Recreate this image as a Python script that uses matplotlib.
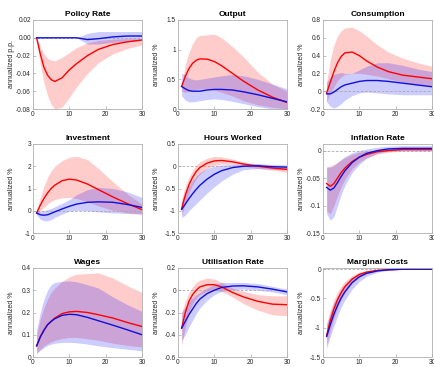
import numpy as np
import matplotlib
matplotlib.use("Agg")
import matplotlib.pyplot as plt

plt.rcParams['font.family'] = ['Liberation Sans', 'DejaVu Sans']

# horizon (quarters) at which the responses are read
t = [1, 2, 3, 4, 5, 6, 8, 10, 12, 15, 18, 22, 26, 30]

# Policy Rate
pol_red = [0, -0.018, -0.033, -0.042, -0.047, -0.049, -0.045, -0.036, -0.029, -0.020, -0.013, -0.0075, -0.0045, -0.0025]
pol_red_hi = [0, -0.010, -0.018, -0.023, -0.025, -0.026, -0.022, -0.0166, -0.011, -0.0057, -0.003, -0.0015, -0.001, -0.001]
pol_red_lo = [0, -0.030, -0.050, -0.065, -0.075, -0.080, -0.078, -0.067, -0.055, -0.040, -0.028, -0.018, -0.012, -0.008]
pol_blue = [0, 0, 0, 0, 0, 0, 0, 0, 0, -0.002, -0.001, 0.001, 0.002, 0.002]
pol_blue_hi = [0, 0, 0, 0, 0, 0, 0, 0, 0, 0.005, 0.007, 0.007, 0.007, 0.007]
pol_blue_lo = [0, 0, 0, 0, 0, 0, 0, 0, 0, -0.007, -0.007, -0.005, -0.004, -0.003]

# Output
out_red = [0.38, 0.55, 0.68, 0.77, 0.82, 0.845, 0.84, 0.80, 0.73, 0.60, 0.47, 0.32, 0.20, 0.11]
out_red_hi = [0.40, 0.75, 0.95, 1.10, 1.20, 1.24, 1.25, 1.26, 1.20, 1.05, 0.88, 0.62, 0.42, 0.30]
out_red_lo = [0.30, 0.28, 0.30, 0.32, 0.33, 0.34, 0.34, 0.32, 0.28, 0.22, 0.14, 0.07, 0.03, 0.0]
out_blue = [0.38, 0.34, 0.31, 0.30, 0.30, 0.30, 0.32, 0.33, 0.33, 0.32, 0.29, 0.24, 0.18, 0.12]
out_blue_hi = [0.60, 0.58, 0.52, 0.50, 0.49, 0.50, 0.52, 0.54, 0.56, 0.58, 0.56, 0.50, 0.42, 0.34]
out_blue_lo = [0.22, 0.15, 0.12, 0.12, 0.13, 0.14, 0.16, 0.17, 0.16, 0.13, 0.09, 0.04, 0.0, -0.02]

# Consumption
con_red = [-0.02, 0.10, 0.22, 0.32, 0.39, 0.43, 0.44, 0.40, 0.34, 0.27, 0.22, 0.18, 0.16, 0.14]
con_red_hi = [0.10, 0.35, 0.52, 0.62, 0.68, 0.71, 0.72, 0.68, 0.62, 0.52, 0.44, 0.37, 0.32, 0.28]
con_red_lo = [-0.12, -0.02, 0.05, 0.12, 0.16, 0.19, 0.20, 0.20, 0.19, 0.17, 0.14, 0.10, 0.07, 0.06]
con_blue = [-0.03, -0.03, -0.01, 0.02, 0.05, 0.07, 0.09, 0.11, 0.12, 0.12, 0.11, 0.09, 0.07, 0.05]
con_blue_hi = [0.10, 0.16, 0.19, 0.20, 0.21, 0.20, 0.20, 0.24, 0.28, 0.32, 0.32, 0.29, 0.25, 0.22]
con_blue_lo = [-0.12, -0.17, -0.19, -0.17, -0.14, -0.10, -0.05, -0.02, -0.01, -0.02, -0.03, -0.04, -0.04, -0.04]

# Investment
inv_red = [-0.10, 0.25, 0.55, 0.80, 1.00, 1.15, 1.35, 1.42, 1.38, 1.20, 0.95, 0.62, 0.32, 0.05]
inv_red_hi = [0.0, 0.60, 1.10, 1.50, 1.80, 2.00, 2.25, 2.40, 2.45, 2.30, 1.90, 1.30, 0.75, 0.30]
inv_red_lo = [-0.20, 0.0, 0.15, 0.30, 0.42, 0.50, 0.58, 0.60, 0.55, 0.40, 0.22, 0.02, -0.10, -0.15]
inv_blue = [-0.10, -0.18, -0.20, -0.18, -0.12, -0.05, 0.08, 0.20, 0.30, 0.38, 0.40, 0.38, 0.28, 0.15]
inv_blue_hi = [0.0, -0.02, 0.0, 0.05, 0.10, 0.18, 0.33, 0.50, 0.72, 0.95, 1.05, 1.00, 0.85, 0.60]
inv_blue_lo = [-0.20, -0.38, -0.45, -0.45, -0.40, -0.30, -0.15, -0.02, 0.02, 0.0, -0.05, -0.10, -0.12, -0.15]

# Hours Worked
hrs_red = [-0.95, -0.65, -0.42, -0.25, -0.12, -0.03, 0.07, 0.12, 0.13, 0.10, 0.05, 0.0, -0.04, -0.07]
hrs_red_hi = [-0.75, -0.45, -0.25, -0.10, 0.02, 0.10, 0.18, 0.22, 0.21, 0.16, 0.10, 0.05, 0.0, -0.02]
hrs_red_lo = [-1.10, -0.85, -0.60, -0.42, -0.28, -0.18, -0.05, 0.02, 0.05, 0.04, 0.0, -0.05, -0.09, -0.13]
hrs_blue = [-0.97, -0.85, -0.73, -0.62, -0.52, -0.43, -0.29, -0.18, -0.10, -0.03, 0.0, 0.01, -0.01, -0.02]
hrs_blue_hi = [-0.80, -0.60, -0.45, -0.32, -0.22, -0.14, -0.05, 0.0, 0.03, 0.04, 0.05, 0.06, 0.04, 0.03]
hrs_blue_lo = [-1.15, -1.10, -1.00, -0.92, -0.84, -0.76, -0.60, -0.46, -0.33, -0.18, -0.08, -0.05, -0.07, -0.08]

# Inflation Rate
inf_red = [-0.060, -0.065, -0.060, -0.050, -0.040, -0.032, -0.020, -0.012, -0.007, -0.002, 0.0, 0.002, 0.002, 0.002]
inf_red_hi = [-0.030, -0.028, -0.025, -0.021, -0.017, -0.013, -0.007, -0.003, -0.001, 0.001, 0.003, 0.004, 0.005, 0.005]
inf_red_lo = [-0.110, -0.115, -0.100, -0.082, -0.066, -0.052, -0.033, -0.021, -0.013, -0.006, -0.003, -0.001, -0.001, -0.001]
inf_blue = [-0.067, -0.072, -0.068, -0.058, -0.047, -0.037, -0.022, -0.012, -0.005, 0.0, 0.003, 0.004, 0.004, 0.004]
inf_blue_hi = [-0.030, -0.030, -0.027, -0.022, -0.016, -0.011, -0.004, 0.0, 0.003, 0.006, 0.008, 0.009, 0.009, 0.009]
inf_blue_lo = [-0.115, -0.127, -0.120, -0.100, -0.080, -0.063, -0.040, -0.025, -0.014, -0.005, -0.001, 0.0, 0.0, 0.0]

# Wages
wag_red = [0.05, 0.09, 0.12, 0.145, 0.16, 0.175, 0.195, 0.203, 0.205, 0.20, 0.19, 0.175, 0.155, 0.137]
wag_red_hi = [0.10, 0.17, 0.22, 0.26, 0.29, 0.31, 0.34, 0.36, 0.372, 0.375, 0.378, 0.355, 0.32, 0.29]
wag_red_lo = [0.02, 0.035, 0.05, 0.06, 0.068, 0.075, 0.083, 0.088, 0.088, 0.082, 0.075, 0.062, 0.052, 0.045]
wag_blue = [0.05, 0.09, 0.12, 0.145, 0.16, 0.172, 0.187, 0.192, 0.19, 0.178, 0.163, 0.143, 0.122, 0.10]
wag_blue_hi = [0.12, 0.20, 0.26, 0.30, 0.325, 0.335, 0.34, 0.342, 0.338, 0.325, 0.31, 0.27, 0.235, 0.205]
wag_blue_lo = [0.015, 0.03, 0.042, 0.052, 0.058, 0.062, 0.066, 0.066, 0.064, 0.058, 0.05, 0.042, 0.035, 0.028]

# Utilisation Rate
utl_red = [-0.34, -0.20, -0.10, -0.04, 0.0, 0.03, 0.05, 0.05, 0.03, -0.02, -0.06, -0.10, -0.125, -0.13]
utl_red_hi = [-0.20, -0.10, -0.02, 0.03, 0.07, 0.09, 0.11, 0.10, 0.07, 0.02, -0.01, -0.04, -0.05, -0.05]
utl_red_lo = [-0.50, -0.33, -0.20, -0.12, -0.07, -0.04, -0.01, 0.0, -0.01, -0.06, -0.12, -0.18, -0.22, -0.23]
utl_blue = [-0.34, -0.28, -0.22, -0.17, -0.12, -0.08, -0.03, 0.0, 0.025, 0.038, 0.04, 0.03, 0.01, -0.015]
utl_blue_hi = [-0.20, -0.15, -0.10, -0.07, -0.04, -0.02, 0.02, 0.05, 0.07, 0.07, 0.07, 0.06, 0.035, 0.01]
utl_blue_lo = [-0.45, -0.40, -0.33, -0.27, -0.21, -0.16, -0.09, -0.04, -0.01, 0.005, 0.01, 0.0, -0.015, -0.04]

# Marginal Costs
mc_red = [-1.13, -0.88, -0.68, -0.52, -0.40, -0.30, -0.17, -0.09, -0.05, -0.02, -0.01, 0.0, 0.0, 0.0]
mc_red_hi = [-0.92, -0.70, -0.52, -0.39, -0.29, -0.21, -0.11, -0.05, -0.02, -0.005, 0.0, 0.0, 0.0, 0.0]
mc_red_lo = [-1.30, -1.05, -0.84, -0.66, -0.52, -0.40, -0.24, -0.14, -0.08, -0.035, -0.015, -0.005, 0.0, 0.0]
mc_blue = [-1.15, -0.95, -0.77, -0.62, -0.49, -0.39, -0.23, -0.13, -0.07, -0.03, -0.01, 0.0, 0.0, 0.0]
mc_blue_hi = [-0.95, -0.75, -0.58, -0.45, -0.34, -0.26, -0.14, -0.07, -0.035, -0.01, 0.0, 0.0, 0.0, 0.0]
mc_blue_lo = [-1.35, -1.15, -0.97, -0.80, -0.65, -0.53, -0.34, -0.21, -0.12, -0.05, -0.02, -0.005, 0.0, 0.0]

titles = ['Policy Rate', 'Output', 'Consumption', 'Investment', 'Hours Worked',
          'Inflation Rate', 'Wages', 'Utilisation Rate', 'Marginal Costs']
ylabels = ['annualized p.p.'] + ['annualized %'] * 8

panels = [
    (pol_red, pol_red_lo, pol_red_hi, pol_blue, pol_blue_lo, pol_blue_hi),
    (out_red, out_red_lo, out_red_hi, out_blue, out_blue_lo, out_blue_hi),
    (con_red, con_red_lo, con_red_hi, con_blue, con_blue_lo, con_blue_hi),
    (inv_red, inv_red_lo, inv_red_hi, inv_blue, inv_blue_lo, inv_blue_hi),
    (hrs_red, hrs_red_lo, hrs_red_hi, hrs_blue, hrs_blue_lo, hrs_blue_hi),
    (inf_red, inf_red_lo, inf_red_hi, inf_blue, inf_blue_lo, inf_blue_hi),
    (wag_red, wag_red_lo, wag_red_hi, wag_blue, wag_blue_lo, wag_blue_hi),
    (utl_red, utl_red_lo, utl_red_hi, utl_blue, utl_blue_lo, utl_blue_hi),
    (mc_red, mc_red_lo, mc_red_hi, mc_blue, mc_blue_lo, mc_blue_hi),
]

ylims = [(-0.08, 0.02), (0, 1.5), (-0.2, 0.8), (-1, 3), (-1.5, 0.5),
         (-0.15, 0.012), (0, 0.4), (-0.6, 0.2), (-1.5, 0.02)]
yticks = [
    [-0.08, -0.06, -0.04, -0.02, 0.0, 0.02],
    [0, 0.5, 1, 1.5],
    [-0.2, 0, 0.2, 0.4, 0.6, 0.8],
    [-1, 0, 1, 2, 3],
    [-1.5, -1, -0.5, 0, 0.5],
    [-0.15, -0.1, -0.05, 0],
    [0, 0.1, 0.2, 0.3, 0.4],
    [-0.6, -0.4, -0.2, 0, 0.2],
    [-1.5, -1, -0.5, 0],
]

fig = plt.figure(figsize=(4.34, 3.67), dpi=100)

W, H = 434, 367
lefts = [33, 178, 323]
tops = [20, 144, 268]
aw, ah = 109, 89

for i, (rm, rlo, rhi, bm, blo, bhi) in enumerate(panels):
    r, c = divmod(i, 3)
    ax = fig.add_axes([lefts[c] / W, 1 - (tops[r] + ah) / H, aw / W, ah / H])
    ax.fill_between(t, rlo, rhi, color=(1, 0, 0), alpha=0.2, lw=0)
    ax.fill_between(t, blo, bhi, color=(0, 0, 1), alpha=0.2, lw=0)
    ax.plot([0, 30], [0, 0], ls='--', color='#a8a8a8', lw=0.6, dashes=(3, 2))
    ax.plot(t, rm, color='#ff0000', lw=1.0)
    ax.plot(t, bm, color='#1010d8', lw=1.0)
    ax.set_xlim(0, 30)
    ax.set_ylim(*ylims[i])
    ax.set_xticks([0, 10, 20, 30])
    ax.set_yticks(yticks[i])
    if i == 0:
        ax.set_yticklabels(['%.2f' % v for v in yticks[i]])
    else:
        ax.set_yticklabels(['%g' % v for v in yticks[i]])
    ax.tick_params(direction='in', length=2, width=0.5, labelsize=4.7,
                   colors='#aaaaaa', labelcolor='#262626', pad=1.5)
    for sp in ax.spines.values():
        sp.set_color('#b0b0b0')
        sp.set_linewidth(0.6)
    ax.set_title(titles[i], fontsize=6, fontweight='bold', pad=3)
    ax.set_ylabel(ylabels[i], fontsize=5, color='#262626')
    ax.yaxis.set_label_coords(-0.165, 0.5)

fig.savefig('out.png', dpi=100)
